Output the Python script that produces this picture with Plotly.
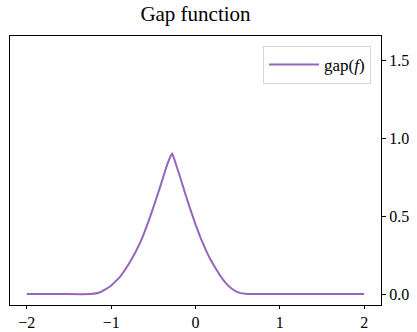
import plotly.graph_objects as go

x_vals = [-2.0, -1.6, -1.248, -1.129, -1.010, -0.891, -0.772, -0.654, -0.535, -0.416, -0.336, -0.277,
          -0.238, -0.178, -0.119, -0.059, 0.0, 0.059, 0.119, 0.178, 0.238, 0.297, 0.357, 0.416,
          0.475, 0.535, 0.594, 0.654, 1.0, 1.5, 2.0]
gap_vals = [0.0, 0.0, 0.0, 0.012, 0.050, 0.114, 0.210, 0.333, 0.500, 0.692, 0.830, 0.902,
            0.842, 0.742, 0.638, 0.540, 0.447, 0.362, 0.287, 0.222, 0.165, 0.115, 0.072, 0.040,
            0.019, 0.006, 0.002, 0.0, 0.0, 0.0, 0.0]
x_ticks = [-2, -1, 0, 1, 2]
y_ticks = [0.0, 0.5, 1.0, 1.5]
y_tick_labels = ["0.0", "0.5", "1.0", "1.5"]

font_family = "Liberation Serif, DejaVu Serif, serif"

fig = go.Figure()
fig.add_trace(go.Scatter(
    x=x_vals, y=gap_vals, mode="lines",
    line=dict(color="#9467bd", width=2, shape="spline", smoothing=0.3),
    name="gap(<i>f</i>)",
))

fig.update_layout(
    width=417, height=332,
    margin=dict(l=10, r=36, t=36, b=27),
    paper_bgcolor="white", plot_bgcolor="white",
    font=dict(family=font_family, size=16, color="black"),
    title=dict(text="Gap function", x=0.5, xref="paper", xanchor="center",
               y=1, yref="container", yanchor="top", pad=dict(t=6),
               font=dict(size=21, family=font_family)),
    showlegend=True,
    legend=dict(x=0.973, y=0.963, xanchor="right", yanchor="top", itemwidth=50,
                bgcolor="rgba(255,255,255,0.8)", bordercolor="#d6d6d6", borderwidth=1,
                font=dict(size=17, family=font_family)),
    xaxis=dict(range=[-2.2, 2.2], tickvals=x_ticks, ticks="outside", ticklen=3,
               tickfont=dict(size=16),
               showgrid=False, zeroline=False, showline=True, linecolor="black",
               linewidth=1, mirror=True, tickcolor="black", automargin=False),
    yaxis=dict(range=[-0.07, 1.654], tickvals=y_ticks, ticktext=y_tick_labels,
               side="right", ticks="outside", ticklen=4, tickfont=dict(size=16),
               showgrid=False, zeroline=False, showline=True, linecolor="black",
               linewidth=1, mirror=True, tickcolor="black", automargin=False),
)

fig.write_html("out.html")
